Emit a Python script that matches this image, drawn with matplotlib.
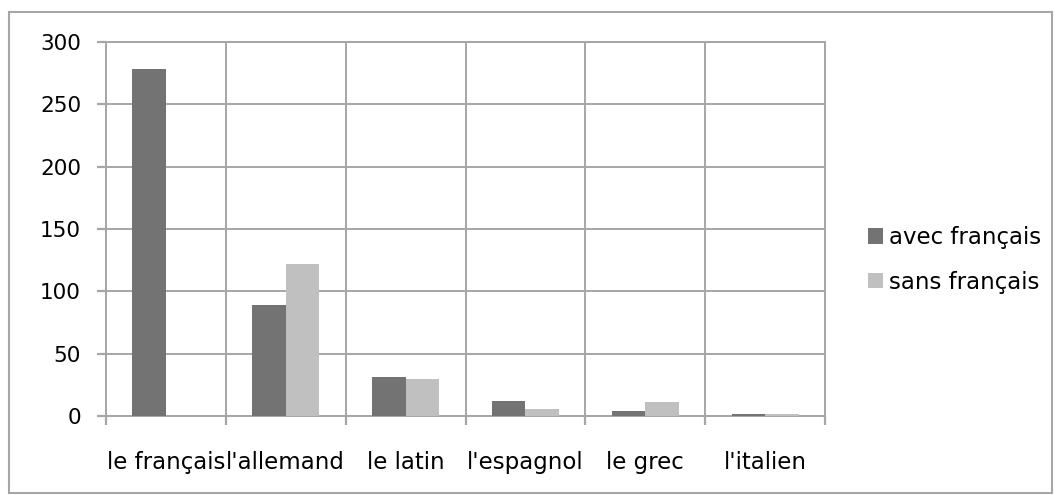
import matplotlib
matplotlib.use("Agg")
import matplotlib.pyplot as plt
import numpy as np
from matplotlib.patches import Rectangle

categories = ["le français", "l'allemand", "le latin", "l'espagnol", "le grec", "l'italien"]
avec_francais = [278, 89, 31, 12, 4, 2]
sans_francais = [0, 122, 30, 6, 11, 1.5]
series_labels = ["avec français", "sans français"]
y_ticks = [0, 50, 100, 150, 200, 250, 300]

W, H = 1056, 495
fig = plt.figure(figsize=(W / 100, H / 100), dpi=100)
plt.rcParams['font.family'] = ['DejaVu Sans']

grid_c = "#a6a6a6"
dark = "#737373"
light = "#c0c0c0"
fs = 16.5

# outer chart frame
fig.patches.append(Rectangle((9 / W, 1 - 493 / H), (1052 - 9) / W, (493 - 12) / H,
                             transform=fig.transFigure, fill=False,
                             edgecolor=grid_c, linewidth=1.5))

ax = fig.add_axes([106 / W, 1 - 416 / H, (825 - 106) / W, (416 - 42) / H])

x = np.arange(len(categories))
bw = 0.28
ax.bar(x - bw / 2, avec_francais, bw, color=dark, label=series_labels[0], zorder=3)
ax.bar(x + bw / 2, sans_francais, bw, color=light, label=series_labels[1], zorder=3)

ax.set_xlim(-0.5, len(categories) - 0.5)
ax.set_ylim(0, 300)
ax.set_yticks(y_ticks)

# category boundaries carry tick marks and gridlines; centres carry the labels
bounds = np.arange(-0.5, len(categories))
ax.xaxis.remove_overlapping_locs = False
ax.set_xticks(bounds)
ax.set_xticklabels([])
ax.set_xticks(x, minor=True)
ax.set_xticklabels(categories, minor=True)

ax.tick_params(axis='x', which='minor', length=0, pad=25, labelsize=fs)
ax.tick_params(axis='x', which='major', length=0)
ax.tick_params(axis='y', length=6.5, width=1.6, color=grid_c, pad=11.5, labelsize=15.5)

# outward tick marks below the category axis
ax.vlines(bounds, -0.025, 0, transform=ax.get_xaxis_transform(),
          colors=grid_c, linewidth=1.6, clip_on=False)

ax.grid(True, axis='y', color=grid_c, linewidth=1.4, zorder=0)
ax.grid(True, axis='x', which='major', color=grid_c, linewidth=1.4, zorder=0)
ax.set_axisbelow(True)
for s in ax.spines.values():
    s.set_color(grid_c)
    s.set_linewidth(1.4)

leg = fig.legend(loc='center left', bbox_to_anchor=(868 / W, 1 - 260 / H),
                 frameon=False, fontsize=fs, handlelength=0.65, handleheight=0.65,
                 handletextpad=0.27, labelspacing=0.95, borderpad=0, borderaxespad=0)

fig.savefig("out.png", dpi=100)
